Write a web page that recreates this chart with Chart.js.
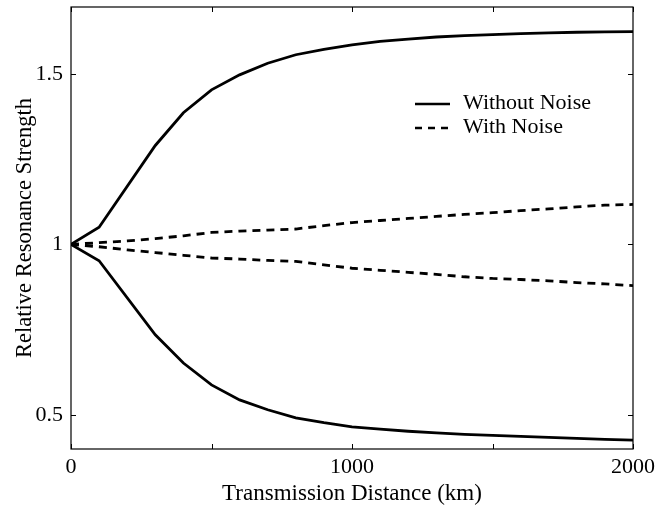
<!DOCTYPE html>
<html>
<head>
<meta charset="utf-8">
<script src="https://cdn.jsdelivr.net/npm/chart.js@4/dist/chart.umd.min.js"></script>
<style>
html,body{margin:0;padding:0;background:#fff;}
#wrap{width:668px;height:508px;}
</style>
</head>
<body>
<div id="wrap"><canvas id="c" width="668" height="508"></canvas></div>
<script>
// ---- data ----
const solidX = [0,100,300,400,500,600,700,800,900,1000,1100,1200,1300,1400,1500,1600,1700,1800,1900,2000];
const solidUpper = [1,1.05,1.29,1.386,1.453,1.497,1.531,1.556,1.572,1.585,1.595,1.602,1.608,1.612,1.615,1.618,1.620,1.622,1.623,1.624];
const solidLower = [1,0.952,0.735,0.652,0.588,0.544,0.515,0.491,0.477,0.465,0.458,0.452,0.447,0.443,0.440,0.437,0.434,0.431,0.428,0.426];
const dashX = [0,100,200,300,400,500,600,700,800,900,1000,1100,1200,1300,1400,1500,1600,1700,1800,1900,2000];
const dashUpper = [1,1.005,1.010,1.017,1.025,1.035,1.039,1.042,1.045,1.055,1.064,1.070,1.076,1.082,1.088,1.093,1.099,1.104,1.110,1.115,1.117];
const dashLower = [1,0.993,0.984,0.976,0.968,0.960,0.957,0.953,0.950,0.940,0.930,0.924,0.918,0.912,0.905,0.900,0.897,0.893,0.888,0.884,0.879];
const xTickLabels = [0,1000,2000];
const xMinorTicks = [500,1500];
const yTickLabels = [0.5,1,1.5];
const legendLabels = ["Without Noise","With Noise"];
const xTitle = "Transmission Distance (km)";
const yTitle = "Relative Resonance Strength";

const FONT = "'Liberation Serif', 'Times New Roman', serif";
const toPts = (xs, ys) => xs.map((x,i)=>({x:x,y:ys[i]}));

const frameTicks = {
  id:'frameTicks',
  afterDraw(chart){
    const ctx = chart.ctx, a = chart.chartArea, xs = chart.scales.x, ys = chart.scales.y;
    ctx.save();
    ctx.strokeStyle = '#000';
    ctx.lineWidth = 1.2;
    ctx.strokeRect(a.left, a.top, a.right - a.left, a.bottom - a.top);
    ctx.lineWidth = 1;
    const L = 5;
    xTickLabels.concat(xMinorTicks).forEach(v=>{
      const p = Math.round(xs.getPixelForValue(v))+0.5;
      ctx.beginPath();
      ctx.moveTo(p,a.bottom); ctx.lineTo(p,a.bottom-L);
      ctx.moveTo(p,a.top); ctx.lineTo(p,a.top+L);
      ctx.stroke();
    });
    yTickLabels.forEach(v=>{
      const p = Math.round(ys.getPixelForValue(v))+0.5;
      ctx.beginPath();
      ctx.moveTo(a.left,p); ctx.lineTo(a.left+L,p);
      ctx.moveTo(a.right,p); ctx.lineTo(a.right-L,p);
      ctx.stroke();
    });
    // legend
    ctx.lineWidth = 2.4;
    ctx.font = "22px " + FONT;
    ctx.fillStyle = '#000';
    ctx.textBaseline = 'middle';
    ctx.textAlign = 'left';
    const lx0 = 415, lx1 = 450, tx = 463;
    ctx.setLineDash([]);
    ctx.beginPath(); ctx.moveTo(lx0,104); ctx.lineTo(lx1,104); ctx.stroke();
    ctx.fillText(legendLabels[0], tx, 103);
    ctx.setLineDash([7,6]);
    ctx.beginPath(); ctx.moveTo(lx0,128); ctx.lineTo(lx1,128); ctx.stroke();
    ctx.setLineDash([]);
    ctx.fillText(legendLabels[1], tx, 127);
    ctx.restore();
  }
};

const common = {borderColor:'#000', borderWidth:2.8, pointRadius:0, fill:false, tension:0};
new Chart(document.getElementById('c'), {
  type:'line',
  data:{
    datasets:[
      Object.assign({label:legendLabels[0], data:toPts(solidX, solidUpper)}, common),
      Object.assign({label:legendLabels[0]+' lower', data:toPts(solidX, solidLower)}, common),
      Object.assign({label:legendLabels[1], data:toPts(dashX, dashUpper), borderDash:[8,6]}, common),
      Object.assign({label:legendLabels[1]+' lower', data:toPts(dashX, dashLower), borderDash:[8,6]}, common)
    ]
  },
  options:{
    responsive:false,
    animation:false,
    layout:{padding:{left:0, right:35, top:7, bottom:0}},
    plugins:{legend:{display:false}, tooltip:{enabled:false}},
    scales:{
      x:{
        type:'linear', min:0, max:2000,
        grid:{display:false, drawTicks:false},
        border:{display:false},
        afterBuildTicks(s){ s.ticks = xTickLabels.map(v=>({value:v})); },
        afterFit(s){ s.height = 59; s.paddingLeft = 0; s.paddingRight = 0; },
        ticks:{color:'#000', font:{family:FONT, size:22}, padding:5, maxRotation:0, autoSkip:false,
               callback:(v)=>String(v)},
        title:{display:true, text:xTitle, color:'#000', font:{family:FONT, size:23}, padding:{top:0,bottom:0}}
      },
      y:{
        type:'linear', min:0.4, max:1.696,
        grid:{display:false, drawTicks:false},
        border:{display:false},
        afterBuildTicks(s){ s.ticks = yTickLabels.map(v=>({value:v})); },
        afterFit(s){ s.width = 71; s.paddingTop = 0; s.paddingBottom = 0; },
        ticks:{color:'#000', font:{family:FONT, size:22}, padding:8, autoSkip:false,
               callback:(v)=>String(v)},
        title:{display:true, text:yTitle, color:'#000', font:{family:FONT, size:22.5}, padding:{top:12,bottom:0}}
      }
    }
  },
  plugins:[frameTicks]
});
</script>
</body>
</html>
